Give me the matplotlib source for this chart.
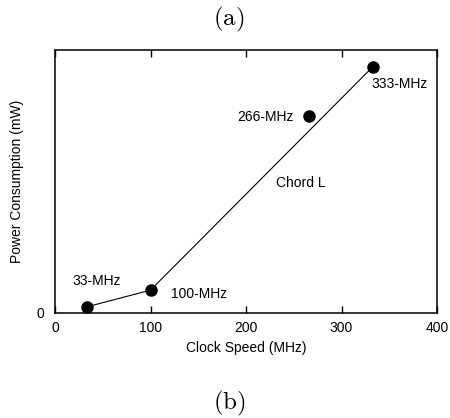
import matplotlib
matplotlib.use("Agg")
import matplotlib.pyplot as plt

plt.rcParams['font.family'] = ['Liberation Sans', 'DejaVu Sans']
plt.rcParams['mathtext.fontset'] = 'cm'

# Data (clock speed in MHz, power in arbitrary mW units)
speeds = [33, 100, 266, 333]
power = [23, 87, 749, 937]
labels = ['33-MHz', '100-MHz', '266-MHz', '333-MHz']
# chord connects these points (by index)
chord_idx = [0, 1, 3]
x_ticks = [0, 100, 200, 300, 400]

fig = plt.figure(figsize=(4.5, 4.18), dpi=100)
ax = fig.add_axes([55/450, 1-313/418, (437-55)/450, (313-50)/418])

ax.plot([speeds[i] for i in chord_idx], [power[i] for i in chord_idx],
        color='black', lw=0.8, zorder=2)
ax.plot(speeds, power, 'o', color='black', markersize=8, zorder=3)

# point labels
ax.annotate(labels[0], (speeds[0], power[0]), xytext=(7, 19), textcoords='offset points',
            ha='center', va='center', fontsize=10)
ax.annotate(labels[1], (speeds[1], power[1]), xytext=(35, -3), textcoords='offset points',
            ha='center', va='center', fontsize=10)
ax.annotate(labels[2], (speeds[2], power[2]), xytext=(-11, -0.5), textcoords='offset points',
            ha='right', va='center', fontsize=10)
ax.annotate(labels[3], (speeds[3], power[3]), xytext=(-1.5, -12.5), textcoords='offset points',
            ha='left', va='center', fontsize=10)
ax.annotate('Chord L', xy=(0, 0), xycoords='axes fraction',
            xytext=((300.5 - 55)/382, (313-183)/263), textcoords='axes fraction',
            ha='center', va='center', fontsize=10)

ax.set_xlim(0, 400)
ax.set_ylim(0, 1000)
ax.set_xticks(x_ticks)
ax.set_xticklabels([str(t) for t in x_ticks], fontsize=10)
ax.set_yticks([0])
ax.set_yticklabels(['0'], fontsize=10)
ax.tick_params(axis='x', direction='in', length=5, width=1, top=True, pad=6)
ax.tick_params(axis='y', length=0, pad=8)
for s in ax.spines.values():
    s.set_linewidth(1.1)

ax.set_xlabel('Clock Speed (MHz)', fontsize=10, labelpad=4)
ax.set_ylabel('Power Consumption (mW)', fontsize=10, labelpad=9)

fig.text(229/450, 1-19/418, r'$\mathrm{(a)}$', fontsize=18, ha='center', va='center')
fig.text(229/450, 1-403/418, r'$\mathrm{(b)}$', fontsize=18, ha='center', va='center')

fig.savefig('out.png', dpi=100)
